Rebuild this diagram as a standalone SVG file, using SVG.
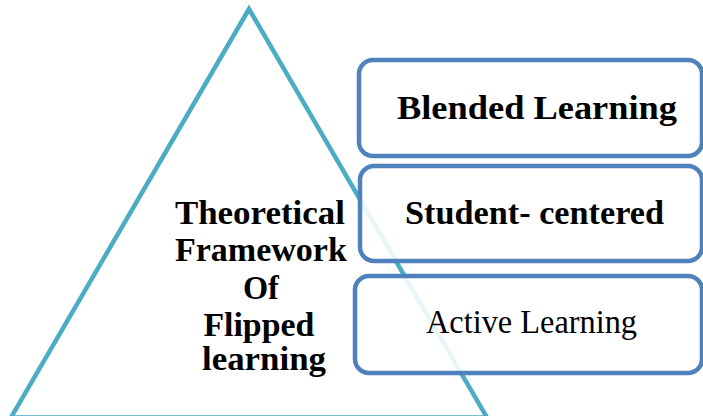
<svg xmlns="http://www.w3.org/2000/svg" width="703" height="416" viewBox="0 0 703 416">
<style>
.tri{fill:none;stroke:#4bacc6;stroke-width:4.5;stroke-linejoin:miter}
.box{fill:#ffffff;fill-opacity:0.88;stroke:#4f81bd;stroke-width:4.5}
.t{font-family:"Liberation Serif","DejaVu Serif",serif;fill:#000;text-anchor:middle}
.b{font-weight:bold}
</style>
<rect width="703" height="416" fill="#ffffff"/>
<g id="triangle">
<polygon class="tri" points="249,9 11,417.5 487,417.5"/>
<text class="t b" font-size="33">
<tspan x="264" y="224" textLength="170" lengthAdjust="spacingAndGlyphs">Theoretical</tspan>
<tspan x="265" y="261" textLength="172" lengthAdjust="spacingAndGlyphs">Framework</tspan>
<tspan x="265" y="299" textLength="36" lengthAdjust="spacingAndGlyphs">Of</tspan>
<tspan x="263" y="336" textLength="111" lengthAdjust="spacingAndGlyphs">Flipped</tspan>
<tspan x="264" y="370" textLength="124" lengthAdjust="spacingAndGlyphs">learning</tspan>
</text>
</g>
<g id="box-blended">
<rect class="box" x="359" y="60" width="343" height="96" rx="14"/>
<text class="t b" x="537" y="119" font-size="34" textLength="280" lengthAdjust="spacingAndGlyphs">Blended Learning</text>
</g>
<g id="box-student">
<rect class="box" x="360" y="166" width="342" height="95" rx="14"/>
<text class="t b" x="534.5" y="224" font-size="34" textLength="259" lengthAdjust="spacingAndGlyphs">Student- centered</text>
</g>
<g id="box-active">
<rect class="box" x="355" y="276" width="347" height="97" rx="14"/>
<text class="t" x="531.5" y="333" font-size="33" textLength="211" lengthAdjust="spacingAndGlyphs">Active Learning</text>
</g>
<g id="connectors"></g>
</svg>
